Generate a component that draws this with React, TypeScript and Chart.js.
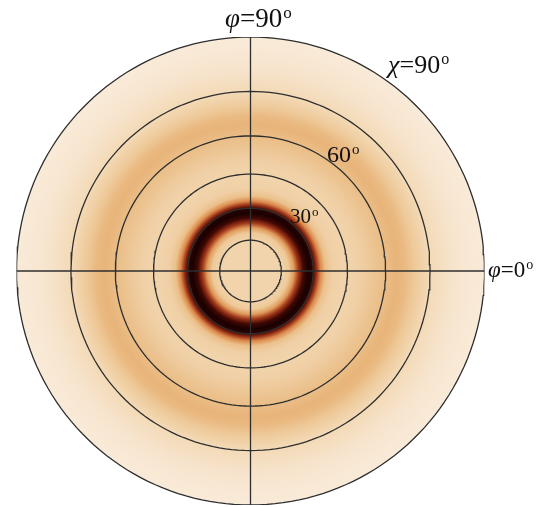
import React, { useEffect, useRef } from "react";
import { Chart, registerables } from "chart.js";

Chart.register(...registerables);

// Radial intensity profile (tilt angle chi in degrees -> normalised intensity)
const profileChi = [0, 14.6, 18.5, 21, 23.2, 25.5, 27.8, 29.7, 31.5, 33.3, 35.5, 38.6, 44.2, 50.3, 56.2, 60, 64, 67, 70, 75, 82, 90];
const profileIntensity = [0.21, 0.21, 0.26, 0.42, 0.66, 0.85, 0.97, 0.9, 0.68, 0.46, 0.3, 0.23, 0.21, 0.23, 0.28, 0.31, 0.34, 0.32, 0.26, 0.18, 0.12, 0.08];

// Grid circles (chi, degrees) and azimuth lines (phi, degrees)
const gridChi = [15, 30, 45, 60, 75, 90];
const gridPhi = [0, 90];

// colormap stops
const cmapPos = [0, 0.1, 0.2, 0.3, 0.4, 0.5, 0.6, 0.7, 0.8, 0.9, 1.0];
const cmapCol = ["#fdf6ee", "#f8e8d4", "#f2d6b0", "#ebc08a", "#e4a363", "#d67a3c", "#bb4f24", "#8f2812", "#5a0d06", "#2a0202", "#120000"];

// labels
const labelItalic = ["φ", "χ", "", "", "φ"];
const labelText = ["=90", "=90", "60", "30", "=0"];
const labelU = [-0.109, 0.588, 0.327, 0.169, 1.015];
const labelV = [1.043, 0.846, 0.466, 0.205, -0.026];
const labelSize = [27, 26, 24, 21, 23];

const stereo = (chi: number) => Math.tan((chi * Math.PI) / 360);

function hexToRgb(h: string) {
  return [parseInt(h.slice(1, 3), 16), parseInt(h.slice(3, 5), 16), parseInt(h.slice(5, 7), 16)];
}
function cmap(v: number) {
  for (let i = 0; i < cmapPos.length - 1; i++) {
    if (v <= cmapPos[i + 1]) {
      const t = (v - cmapPos[i]) / (cmapPos[i + 1] - cmapPos[i]);
      const a = hexToRgb(cmapCol[i]);
      const b = hexToRgb(cmapCol[i + 1]);
      const c = a.map((x, k) => Math.round(x + (b[k] - x) * t));
      return `rgb(${c[0]},${c[1]},${c[2]})`;
    }
  }
  return cmapCol[cmapCol.length - 1];
}

const heatPlugin = {
  id: "heat",
  beforeDatasetsDraw(chart: any) {
    const { ctx, scales } = chart;
    const cx = scales.x.getPixelForValue(0);
    const cy = scales.y.getPixelForValue(0);
    const R = scales.x.getPixelForValue(1) - cx;
    const g = ctx.createRadialGradient(cx, cy, 0, cx, cy, R);
    profileChi.forEach((chi, i) => {
      g.addColorStop(Math.min(1, stereo(chi)), cmap(profileIntensity[i]));
    });
    ctx.save();
    ctx.beginPath();
    ctx.arc(cx, cy, R, 0, Math.PI * 2);
    ctx.fillStyle = g;
    ctx.fill();
    ctx.restore();
  },
  afterDatasetsDraw(chart: any) {
    const { ctx, scales } = chart;
    const cx = scales.x.getPixelForValue(0);
    const cy = scales.y.getPixelForValue(0);
    const R = scales.x.getPixelForValue(1) - cx;
    ctx.save();
    ctx.fillStyle = "#111";
    ctx.textBaseline = "alphabetic";
    ctx.textAlign = "left";
    labelText.forEach((txt, i) => {
      const fs = labelSize[i];
      let x = cx + labelU[i] * R;
      const y = cy - labelV[i] * R;
      if (labelItalic[i]) {
        ctx.font = `italic ${fs}px "Liberation Serif", serif`;
        ctx.fillText(labelItalic[i], x, y);
        x += ctx.measureText(labelItalic[i]).width;
      }
      ctx.font = `${fs}px "Liberation Serif", serif`;
      ctx.fillText(txt, x, y);
      x += ctx.measureText(txt).width + 1;
      const sfs = Math.round(fs * 0.62);
      ctx.font = `${sfs}px "Liberation Serif", serif`;
      ctx.fillText("o", x, y - fs * 0.34);
    });
    ctx.restore();
  },
};

export default function App() {
  const ref = useRef<HTMLCanvasElement | null>(null);
  useEffect(() => {
    if (!ref.current) return;
    const datasets: any[] = [];
    gridChi.forEach((chi) => {
      const r = stereo(chi);
      const pts = [];
      for (let a = 0; a <= 360; a += 2) {
        const t = (a * Math.PI) / 180;
        pts.push({ x: r * Math.cos(t), y: r * Math.sin(t) });
      }
      datasets.push({
        data: pts,
        showLine: true,
        borderColor: "#2e2e2e",
        borderWidth: 1.3,
        pointRadius: 0,
        fill: false,
      });
    });
    gridPhi.forEach((phi) => {
      const t = (phi * Math.PI) / 180;
      datasets.push({
        data: [
          { x: -Math.cos(t), y: -Math.sin(t) },
          { x: Math.cos(t), y: Math.sin(t) },
        ],
        showLine: true,
        borderColor: "#2e2e2e",
        borderWidth: 1.3,
        pointRadius: 0,
        fill: false,
      });
    });
    const chart = new Chart(ref.current, {
      type: "scatter",
      data: { datasets },
      options: {
        animation: false,
        responsive: true,
        maintainAspectRatio: false,
        layout: { padding: { left: 16.5, right: 64.5, top: 37, bottom: 2 } },
        scales: {
          x: { type: "linear", min: -1, max: 1, display: false },
          y: { type: "linear", min: -1, max: 1, display: false },
        },
        plugins: { legend: { display: false }, tooltip: { enabled: false } },
      },
      plugins: [heatPlugin],
    });
    return () => chart.destroy();
  }, []);
  return (
    <div style={{ position: "absolute", left: 0, top: 0, width: 549, height: 507, background: "#fff" }}>
      <canvas ref={ref} />
    </div>
  );
}
